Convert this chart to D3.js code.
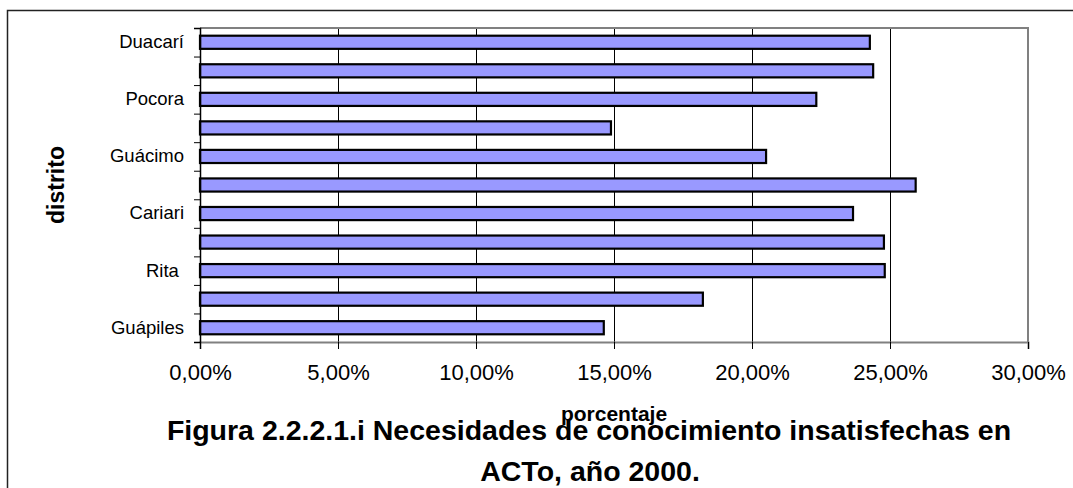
<!DOCTYPE html>
<html>
<head>
<meta charset="utf-8">
<script src="https://cdn.jsdelivr.net/npm/d3@7"></script>
<style>
  body { margin: 0; background: #fff; }
  svg { display: block; font-family: Arial, "Liberation Sans", sans-serif; }
</style>
</head>
<body>
<div id="chart"></div>
<script>
// bottom to top, as in the original
const districts = ['Guápiles', '', 'Rita ', '', 'Cariari', '', 'Guácimo', '', 'Pocora', '', 'Duacarí']
const values = [14.63, 18.22, 24.81, 24.78, 23.66, 25.93, 20.51, 14.89, 22.33, 24.39, 24.27]
const xTicks = [0, 5, 10, 15, 20, 25, 30]

const width = 1073
const height = 488
const plot = { left: 200, right: 1028, top: 28, bottom: 342 }

const svg = d3.select('#chart')
    .append('svg')
    .attr('width', width)
    .attr('height', height)

// outer frame
svg.append('rect')
    .attr('x', 7.5).attr('y', 10.5)
    .attr('width', 1070).attr('height', 490)
    .attr('fill', 'none')
    .attr('stroke', '#222')
    .attr('stroke-width', 1.5)

const xScale = d3.scaleLinear().domain([0, 30]).range([plot.left, plot.right])
const ids = d3.range(districts.length)
const yScale = d3.scaleBand().domain(ids).range([plot.bottom, plot.top])
    .paddingInner(0.54).paddingOuter(0.27)
const yEdge = d3.scaleLinear().domain([0, districts.length]).range([plot.bottom, plot.top])

// gridlines
svg.selectAll('line.grid')
    .data(xTicks.filter((d) => d > 0 && d < 30))
    .enter()
    .append('line')
    .attr('class', 'grid')
    .attr('x1', (d) => xScale(d)).attr('x2', (d) => xScale(d))
    .attr('y1', plot.top).attr('y2', plot.bottom)
    .attr('stroke', '#000')
    .attr('stroke-width', 1)
    .attr('shape-rendering', 'crispEdges')

// plot border (top, right)
svg.append('path')
    .attr('d', `M${plot.left},${plot.top}H${plot.right}V${plot.bottom}`)
    .attr('fill', 'none')
    .attr('stroke', '#808080')
    .attr('stroke-width', 2)

// bars
svg.selectAll('rect.bar')
    .data(values)
    .enter()
    .append('rect')
    .attr('class', 'bar')
    .attr('x', xScale(0))
    .attr('y', (d, i) => yScale(i))
    .attr('width', (d) => xScale(d) - xScale(0))
    .attr('height', yScale.bandwidth())
    .attr('fill', '#9999ff')
    .attr('stroke', '#000')
    .attr('stroke-width', 2.2)

// x axis
const xAxis = d3.axisBottom(xScale)
    .tickValues(xTicks)
    .tickFormat((d) => d3.format('.2f')(d).replace('.', ',') + '%')
    .tickSize(7)
    .tickPadding(15)
const gx = svg.append('g')
    .attr('transform', `translate(0, ${plot.bottom})`)
    .call(xAxis)
gx.select('.domain').attr('stroke', '#808080').attr('stroke-width', 2)
gx.selectAll('.tick line').attr('stroke', '#000').attr('stroke-width', 1)
gx.selectAll('.tick text')
    .attr('fill', '#000')
    .style('font-size', '22px')
    .style('font-family', 'Arial, "Liberation Sans", sans-serif')

// y axis: ticks at band edges
const gyTicks = svg.append('g')
    .attr('transform', `translate(${plot.left}, 0)`)
    .call(d3.axisLeft(yEdge).tickValues(d3.range(districts.length + 1)).tickFormat('').tickSize(6))
gyTicks.select('.domain').attr('stroke', '#000').attr('stroke-width', 1.5)
gyTicks.selectAll('.tick line').attr('stroke', '#000')

// y axis labels
const gy = svg.append('g')
    .attr('transform', `translate(${plot.left}, 0)`)
    .call(d3.axisLeft(yScale).tickFormat((i) => districts[i]).tickSize(0).tickPadding(16))
gy.select('.domain').remove()
gy.selectAll('.tick text')
    .attr('fill', '#000')
    .style('white-space', 'pre')
    .style('font-size', '18.5px')
    .style('font-family', 'Arial, "Liberation Sans", sans-serif')

// axis titles
svg.append('text')
    .attr('transform', `translate(64, ${(plot.top + plot.bottom) / 2}) rotate(-90)`)
    .attr('text-anchor', 'middle')
    .style('font-size', '23px')
    .style('font-weight', 'bold')
    .text('distrito')

svg.append('text')
    .attr('x', (plot.left + plot.right) / 2)
    .attr('y', 421)
    .attr('text-anchor', 'middle')
    .style('font-size', '21px')
    .style('font-weight', 'bold')
    .text('porcentaje')

// figure caption
svg.append('text')
    .attr('x', 589)
    .attr('y', 440)
    .attr('text-anchor', 'middle')
    .style('font-size', '28.5px')
    .style('font-weight', 'bold')
    .text('Figura 2.2.2.1.i Necesidades de conocimiento insatisfechas en')

svg.append('text')
    .attr('x', 590)
    .attr('y', 481)
    .attr('text-anchor', 'middle')
    .style('font-size', '28.5px')
    .style('font-weight', 'bold')
    .text('ACTo, año 2000.')
</script>
</body>
</html>
